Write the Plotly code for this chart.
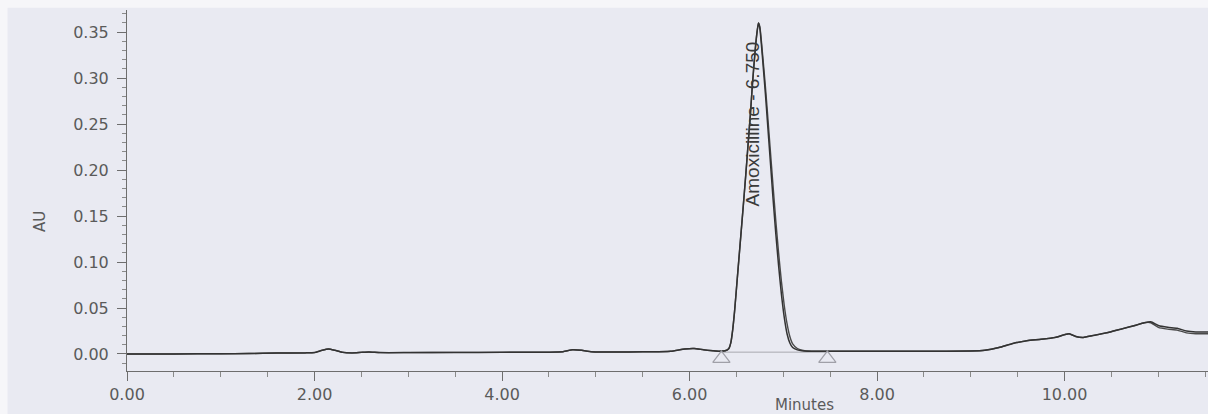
import plotly.graph_objects as go

# Retention time (min)
time_min = [0.0, 0.5, 1.0, 1.3, 1.6, 1.9, 2.0, 2.08, 2.15, 2.22, 2.3, 2.4, 2.5, 2.58, 2.7,
            3.0, 3.5, 4.0, 4.5, 4.65, 4.75, 4.85, 4.95, 5.2, 5.5, 5.8, 5.95, 6.05, 6.15,
            6.25, 6.32, 6.38, 6.42, 6.44, 6.46, 6.48, 6.51, 6.54, 6.57, 6.60, 6.62, 6.65,
            6.67, 6.70, 6.72, 6.735, 6.75, 6.78, 6.81, 6.83, 6.86, 6.89, 6.92, 6.95, 6.98,
            7.01, 7.04, 7.07, 7.10, 7.15, 7.20, 7.30, 7.45, 7.7, 8.0, 8.5, 9.0, 9.15, 9.3,
            9.45, 9.6, 9.75, 9.9, 10.0, 10.05, 10.12, 10.2, 10.3, 10.45, 10.6, 10.75, 10.85,
            10.92, 11.0, 11.1, 11.2, 11.3, 11.4, 11.55]

# Absorbance (AU), injection 1
run1_au = [0.0, 0.0, 0.0003, 0.0005, 0.001, 0.0012, 0.0015, 0.004, 0.0055, 0.004, 0.0018,
           0.0012, 0.0018, 0.0022, 0.0015, 0.0015, 0.0017, 0.0018, 0.002, 0.0025, 0.0045,
           0.004, 0.0025, 0.0022, 0.0023, 0.003, 0.0055, 0.006, 0.0045, 0.0035, 0.003,
           0.0035, 0.006, 0.012, 0.026, 0.046, 0.083, 0.120, 0.157, 0.195, 0.222, 0.262,
           0.292, 0.330, 0.350, 0.360, 0.354, 0.320, 0.282, 0.254, 0.212, 0.170, 0.131,
           0.096, 0.065, 0.040, 0.022, 0.012, 0.007, 0.0045, 0.0035, 0.003, 0.003, 0.003,
           0.003, 0.003, 0.0032, 0.004, 0.007, 0.0115, 0.0145, 0.016, 0.018, 0.021, 0.022,
           0.019, 0.018, 0.020, 0.023, 0.027, 0.031, 0.034, 0.035, 0.031, 0.029, 0.028,
           0.025, 0.024, 0.024]

# Absorbance (AU), injection 2
run2_au = [0.0, 0.0, 0.0003, 0.0005, 0.001, 0.0012, 0.0015, 0.004, 0.0055, 0.004, 0.0018,
           0.0012, 0.0018, 0.0022, 0.0015, 0.0015, 0.0017, 0.0018, 0.002, 0.0025, 0.0045,
           0.004, 0.0025, 0.0022, 0.0023, 0.003, 0.0055, 0.006, 0.0045, 0.0035, 0.003,
           0.0035, 0.006, 0.012, 0.026, 0.046, 0.083, 0.120, 0.157, 0.195, 0.222, 0.262,
           0.292, 0.330, 0.350, 0.360, 0.356, 0.325, 0.290, 0.264, 0.224, 0.184, 0.145,
           0.110, 0.079, 0.053, 0.033, 0.019, 0.011, 0.006, 0.0042, 0.003, 0.003, 0.003,
           0.003, 0.003, 0.0032, 0.004, 0.007, 0.0115, 0.0145, 0.016, 0.018, 0.021, 0.022,
           0.019, 0.018, 0.020, 0.023, 0.027, 0.031, 0.034, 0.034, 0.029, 0.027, 0.026,
           0.023, 0.022, 0.022]

# Integration start/end markers and baseline
marker_time = [6.34, 7.47]
marker_au = [-0.005, -0.005]
baseline_time = [6.34, 7.47]
baseline_au = [0.002, 0.002]

peak_label = "Amoxicilline - 6.750"
peak_label_time = 6.67
peak_label_au = 0.25

BG = "#e9eaf2"
INK = "#333333"
AXIS = "#6e6e6e"
TXT = "#5a5a5a"

fig = go.Figure()

fig.add_trace(go.Scatter(x=baseline_time, y=baseline_au, mode="lines",
                         line=dict(color="#a9a9b0", width=1), hoverinfo="skip",
                         showlegend=False))
fig.add_trace(go.Scatter(x=time_min, y=run2_au, mode="lines",
                         line=dict(color="#4a4a4a", width=1.4, shape="spline", smoothing=0.5),
                         showlegend=False, name="Injection 2"))
fig.add_trace(go.Scatter(x=time_min, y=run1_au, mode="lines",
                         line=dict(color=INK, width=1.5, shape="spline", smoothing=0.5),
                         showlegend=False, name="Injection 1"))
fig.add_trace(go.Scatter(x=marker_time, y=marker_au, mode="markers",
                         marker=dict(symbol="triangle-up-open", size=15,
                                     color="#a0a0a8", line=dict(width=1.2)),
                         showlegend=False, hoverinfo="skip"))

fig.add_annotation(x=peak_label_time, y=peak_label_au, xref="x", yref="y",
                   text=peak_label, textangle=-90, showarrow=False,
                   font=dict(family="Liberation Sans, Arial, sans-serif", size=19, color="#3a3a3a"))

fig.add_annotation(x=0.627, y=-0.094, xref="paper", yref="paper", text="Minutes",
                   showarrow=False, xanchor="center", yanchor="middle",
                   font=dict(family="DejaVu Sans, sans-serif", size=15, color=TXT))
fig.add_annotation(x=-0.0805, y=0.4155, xref="paper", yref="paper", text="AU",
                   textangle=-90, showarrow=False, xanchor="center", yanchor="middle",
                   font=dict(family="DejaVu Sans, sans-serif", size=15, color=TXT))

# scan edges (white strips at top and left)
fig.add_shape(type="rect", xref="paper", yref="paper", x0=-0.12, x1=1.01, y0=1.006, y1=1.04,
              fillcolor="#f6f6f9", line=dict(width=0), layer="below")
fig.add_shape(type="rect", xref="paper", yref="paper", x0=-0.12, x1=-0.1105, y0=-0.2, y1=1.04,
              fillcolor="#f6f6f9", line=dict(width=0), layer="below")

fig.update_layout(
    width=1208, height=414,
    margin=dict(l=127, r=0, t=10, b=43),
    paper_bgcolor=BG, plot_bgcolor=BG,
    font=dict(family="DejaVu Sans, sans-serif", size=16, color=TXT),
    showlegend=False,
)

fig.update_xaxes(
    range=[0, 11.53], showgrid=False, zeroline=False,
    showline=True, linecolor=AXIS, linewidth=1,
    ticks="outside", ticklen=9, tickcolor=AXIS, tickwidth=1,
    tick0=0, dtick=2, tickformat=".2f",
    tickfont=dict(family="DejaVu Sans, sans-serif", size=16, color=TXT),
    minor=dict(ticks="outside", ticklen=5, tickcolor="#8a8a8a", dtick=0.5, showgrid=False),
    ticklabelstandoff=0,
)
fig.update_yaxes(
    range=[-0.0185, 0.374], showgrid=False, zeroline=False,
    showline=True, linecolor=AXIS, linewidth=1,
    ticks="outside", ticklen=9, tickcolor=AXIS, tickwidth=1,
    tick0=0, dtick=0.05, tickformat=".2f",
    tickfont=dict(family="DejaVu Sans, sans-serif", size=16, color=TXT),
    minor=dict(ticks="outside", ticklen=4, tickcolor="#8a8a8a", dtick=0.01, showgrid=False),
    ticklabelstandoff=5,
)

fig.write_html("out.html")
